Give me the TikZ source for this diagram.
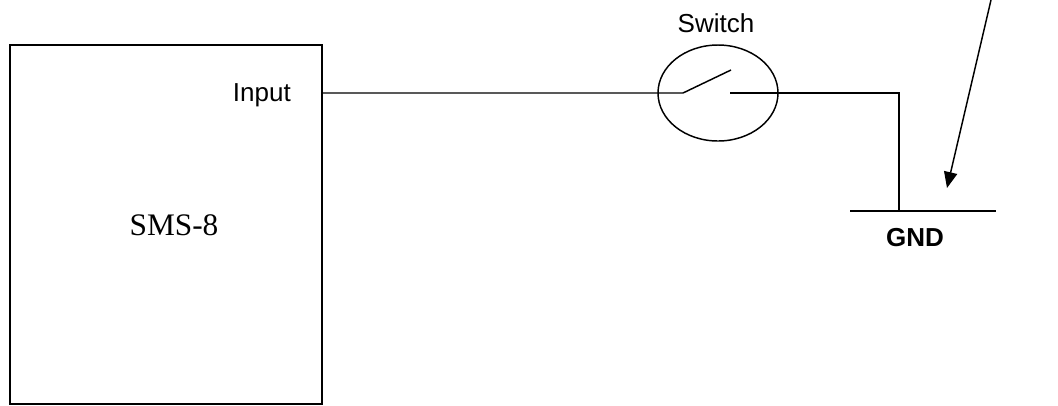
\documentclass[tikz,border=0pt]{standalone}
\usepackage{fontspec}
\setmainfont{Liberation Serif}
\setsansfont{Liberation Sans}
\usetikzlibrary{shapes.geometric,arrows.meta}
\begin{document}
\begin{tikzpicture}[x=0.75pt, y=-0.75pt, line width=1.1pt]
\useasboundingbox (0,0) rectangle (1058,405);
\node[draw, minimum width=234pt, minimum height=269pt] (sms) at (166,224.5) {};
\node[font=\fontsize{23.5}{28}\selectfont] (smslbl) at (174,225) {SMS-8};
\node[anchor=east, font=\sffamily\fontsize{19.5}{23}\selectfont] (inlbl) at (296,95) {Input};
\node[draw, ellipse, minimum width=90pt, minimum height=72pt] (sw) at (718,93) {};
\node[font=\sffamily\fontsize{19.5}{23}\selectfont] (swlbl) at (716,23) {Switch};
\node[font=\sffamily\bfseries\fontsize{19.5}{23}\selectfont] (gndlbl) at (915,238) {GND};

\coordinate (in) at (322,93);
\coordinate (ca) at (683,93);
\coordinate (blade) at (731,70);
\coordinate (cb) at (730,93);
\coordinate (corner) at (899,93);
\coordinate (gnd) at (899,211);
\coordinate (gl) at (850,211);
\coordinate (gr) at (996,211);
\coordinate (from) at (991,0);
\coordinate (to) at (947,188);

\draw (in) -- (ca) -- (blade);
\draw (cb) -- (corner) -- (gnd);
\draw (gl) -- (gr);
\draw[-{Triangle[length=12pt,width=10pt]}] (from) -- (to);
\end{tikzpicture}
\end{document}
